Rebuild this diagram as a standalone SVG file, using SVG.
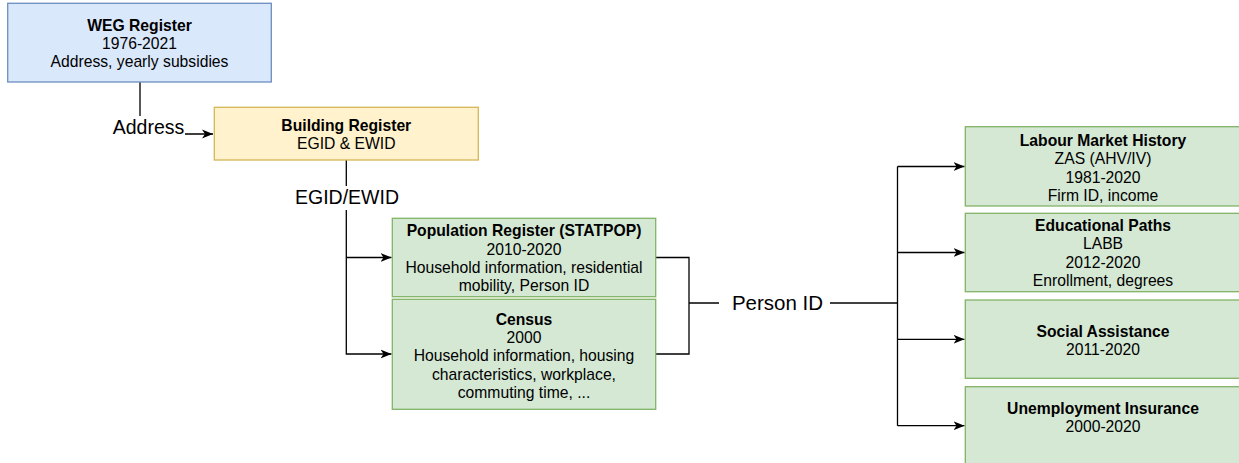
<svg xmlns="http://www.w3.org/2000/svg" width="1239" height="463" viewBox="0 0 1239 463">
<style>
text{font-family:"Liberation Sans",Arial,sans-serif;fill:#000;text-anchor:middle}
.t{font-size:15.7px}
.b{font-weight:bold}
.lbl{font-size:19.5px}
.blue{fill:#dae8fc;stroke:#6c8ebf;stroke-width:1.3}
.yel{fill:#fff2cc;stroke:#d6b656;stroke-width:1.3}
.grn{fill:#d5e8d4;stroke:#82b366;stroke-width:1.3}
.c{fill:none;stroke:#000;stroke-width:1.3}
</style>
<defs>
<marker id="arr" markerUnits="userSpaceOnUse" markerWidth="12" markerHeight="10" refX="11" refY="5" orient="auto">
<path d="M0,0.5 L11,5 L0,9.5 L3,5 Z" fill="#000"/>
</marker>
</defs>
<rect width="1239" height="463" fill="#fff"/>

<g id="connectors">
<path class="c" d="M140,82 V134 H213" marker-end="url(#arr)"/>
<path class="c" d="M346.3,160 V354 H391.5" marker-end="url(#arr)"/>
<path class="c" d="M346.3,257.5 H391.5" marker-end="url(#arr)"/>
<path class="c" d="M655.7,257.5 H689 V354 H655.7"/>
<path class="c" d="M689,303 H897.5"/>
<path class="c" d="M897.5,166.5 V425.7"/>
<path class="c" d="M897.5,166.5 H964.5" marker-end="url(#arr)"/>
<path class="c" d="M897.5,252.5 H964.5" marker-end="url(#arr)"/>
<path class="c" d="M897.5,339.3 H964.5" marker-end="url(#arr)"/>
<path class="c" d="M897.5,425.7 H964.5" marker-end="url(#arr)"/>
<rect x="112" y="116" width="73" height="25" fill="#fff"/>
<text class="lbl" x="148.5" y="134.3">Address</text>
<rect x="293" y="186" width="108" height="24" fill="#fff"/>
<text class="lbl" x="347" y="204">EGID/EWID</text>
<rect x="719" y="290" width="111" height="26" fill="#fff"/>
<text class="lbl" style="font-size:20.5px" x="777.5" y="310">Person ID</text>
</g>

<g id="weg">
<rect class="blue" x="7.7" y="3.3" width="263.6" height="78.7"/>
<text class="t b" x="139.5" y="30.5">WEG Register</text>
<text class="t" x="139.5" y="49">1976-2021</text>
<text class="t" x="139.5" y="67">Address, yearly subsidies</text>
</g>

<g id="building">
<rect class="yel" x="214.3" y="107.3" width="264" height="52.7"/>
<text class="t b" x="346.3" y="130.5">Building Register</text>
<text class="t" x="346.3" y="148.5">EGID &amp; EWID</text>
</g>

<g id="statpop">
<rect class="grn" x="392.3" y="218.3" width="263.4" height="78.4"/>
<text class="t b" x="524" y="236">Population Register (STATPOP)</text>
<text class="t" x="524" y="254.5">2010-2020</text>
<text class="t" x="524" y="273">Household information, residential</text>
<text class="t" x="524" y="291">mobility, Person ID</text>
</g>

<g id="census">
<rect class="grn" x="392.3" y="299.3" width="263.4" height="110"/>
<text class="t b" x="524" y="324.5">Census</text>
<text class="t" x="524" y="343">2000</text>
<text class="t" x="524" y="361.3">Household information, housing</text>
<text class="t" x="524" y="379.7">characteristics, workplace,</text>
<text class="t" x="524" y="398">commuting time, ...</text>
</g>

<g id="labour">
<rect class="grn" x="965.3" y="126.7" width="276" height="79.3"/>
<text class="t b" x="1103" y="146">Labour Market History</text>
<text class="t" x="1103" y="164.3">ZAS (AHV/IV)</text>
<text class="t" x="1103" y="182.7">1981-2020</text>
<text class="t" x="1103" y="201">Firm ID, income</text>
</g>

<g id="education">
<rect class="grn" x="965.3" y="213.3" width="276" height="78.4"/>
<text class="t b" x="1103" y="231">Educational Paths</text>
<text class="t" x="1103" y="249.3">LABB</text>
<text class="t" x="1103" y="267.7">2012-2020</text>
<text class="t" x="1103" y="286">Enrollment, degrees</text>
</g>

<g id="social">
<rect class="grn" x="965.3" y="300" width="276" height="78.3"/>
<text class="t b" x="1103" y="336.7">Social Assistance</text>
<text class="t" x="1103" y="355">2011-2020</text>
</g>

<g id="unemployment">
<rect class="grn" x="965.3" y="386.7" width="276" height="80"/>
<text class="t b" x="1103" y="414.3">Unemployment Insurance</text>
<text class="t" x="1103" y="432.3">2000-2020</text>
</g>
</svg>
